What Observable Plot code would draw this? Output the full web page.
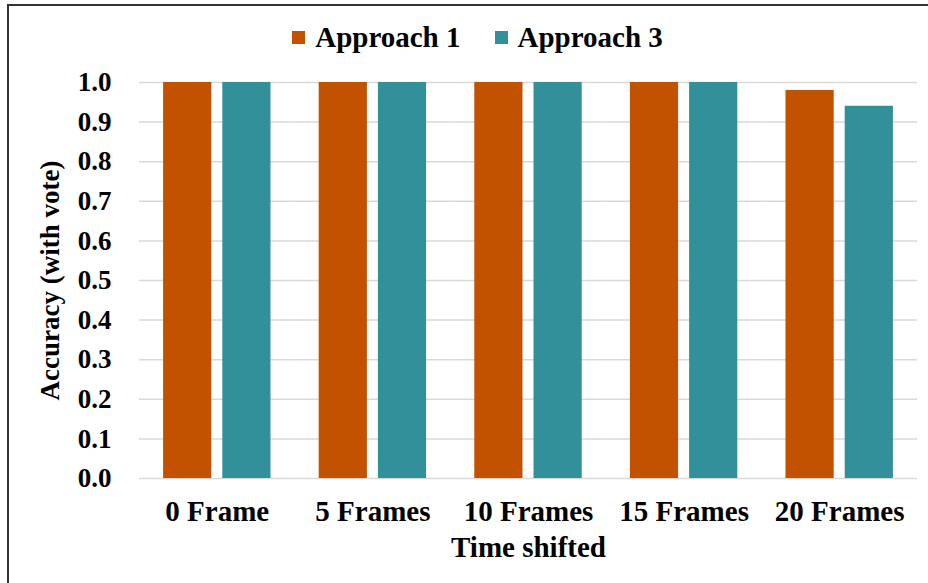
<!DOCTYPE html>
<html>
<head>
<meta charset="utf-8">
<script src="https://cdn.jsdelivr.net/npm/d3@7"></script>
<script src="https://cdn.jsdelivr.net/npm/@observablehq/plot@0.6"></script>
<style>
  html, body { margin: 0; padding: 0; background: #fff; }
  #wrap { position: relative; width: 928px; height: 583px; overflow: hidden; font-family: "Liberation Serif", "Times New Roman", serif; font-weight: bold; }
  #frame { position: absolute; left: 7px; top: 4px; width: 1000px; height: 1000px; border: 2px solid #333; pointer-events: none; }
  #legend { height: 60px; box-sizing: border-box; padding-top: 14px; padding-left: 27px; display: flex; justify-content: center; align-items: center; font-size: 29px; color: #000; }
  .item { display: flex; align-items: center; margin: 0 17px; }
  .sw { width: 13px; height: 13px; margin-right: 10px; }
  svg { display: block; }
</style>
</head>
<body>
<div id="wrap">
  <div id="legend"></div>
  <div id="chart"></div>
  <div id="frame"></div>
</div>
<script>
const categories = ["0 Frame", "5 Frames", "10 Frames", "15 Frames", "20 Frames"];
const seriesNames = ["Approach 1", "Approach 3"];
const approach1 = [1.0, 1.0, 1.0, 1.0, 0.98];
const approach3 = [1.0, 1.0, 1.0, 1.0, 0.94];
const colors = ["#C25100", "#31909A"];
const yTicks = [0, 0.1, 0.2, 0.3, 0.4, 0.5, 0.6, 0.7, 0.8, 0.9, 1.0];

const data = [];
categories.forEach((c, i) => {
  data.push({cat: c, series: seriesNames[0], value: approach1[i]});
  data.push({cat: c, series: seriesNames[1], value: approach3[i]});
});

// legend
const legend = document.getElementById("legend");
seriesNames.forEach((s, i) => {
  const it = document.createElement("div");
  it.className = "item";
  const sw = document.createElement("div");
  sw.className = "sw";
  sw.style.background = colors[i];
  const t = document.createElement("span");
  t.textContent = s;
  it.appendChild(sw); it.appendChild(t);
  legend.appendChild(it);
});

const chart = Plot.plot({
  width: 928,
  height: 523,
  marginTop: 22,
  marginBottom: 105,
  marginLeft: 139,
  marginRight: 11,
  style: {fontFamily: "'Liberation Serif', 'Times New Roman', serif", fontWeight: "bold", fontSize: "27px", color: "#000", background: "#fff"},
  fx: {domain: categories, padding: 0, round: false, label: null},
  x: {domain: seriesNames, paddingInner: 0.186, paddingOuter: 0.407, round: false, axis: null},
  y: {domain: [0, 1], label: null, axis: null},
  color: {domain: seriesNames, range: colors},
  marks: [
    Plot.gridY(yTicks, {stroke: "#d9d9d9", strokeOpacity: 1, strokeWidth: 1.5}),
    Plot.barY(data, {fx: "cat", x: "series", y: "value", fill: "series"}),
    Plot.axisY(yTicks, {tickSize: 0, tickPadding: 28, tickFormat: d3.format(".1f"), fontSize: 27, label: "Accuracy (with vote)", labelAnchor: "center", labelOffset: 100, labelArrow: "none"}),
    Plot.axisFx({anchor: "bottom", tickSize: 0, tickPadding: 22, fontSize: 29, label: "Time shifted", labelAnchor: "center", labelOffset: 78, labelArrow: "none"})
  ]
});
document.getElementById("chart").appendChild(chart);
</script>
</body>
</html>
